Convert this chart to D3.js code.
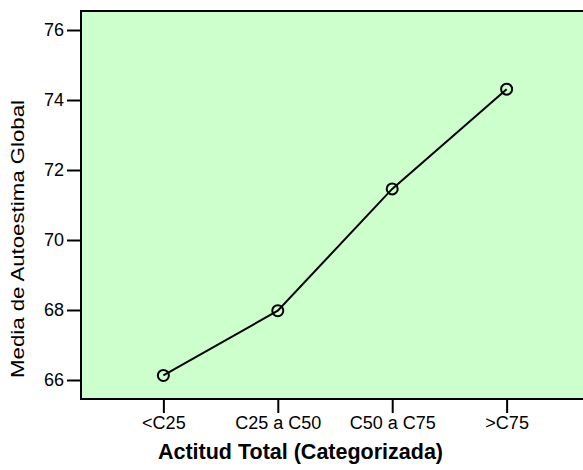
<!DOCTYPE html>
<html>
<head>
<meta charset="utf-8">
<script src="https://cdn.jsdelivr.net/npm/d3@7"></script>
<style>
  html, body { margin: 0; padding: 0; background: #ffffff; }
  svg { display: block; }
  text { font-family: "Liberation Sans", Arial, sans-serif; fill: #000; }
</style>
</head>
<body>
<svg id="chart" width="583" height="470"></svg>
<script>
// Mean global self-esteem by categorized total attitude
const categories = ["<C25", "C25 a C50", "C50 a C75", ">C75"];
const means = [66.13, 67.98, 71.46, 74.31];
const yTicks = [66, 68, 70, 72, 74, 76];
const yDomain = [65.457, 76.543];

const xTitle = "Actitud Total (Categorizada)";
const yTitle = "Media de Autoestima Global";

const plot = { left: 81, top: 11, right: 589, bottom: 399 };

const svg = d3.select("#chart");

const x = d3.scalePoint()
  .domain(categories)
  .range([plot.left, plot.right])
  .padding(0.72);

const y = d3.scaleLinear()
  .domain(yDomain)
  .range([plot.bottom, plot.top]);

// Plot background and frame
svg.append("rect")
  .attr("x", plot.left)
  .attr("y", plot.top)
  .attr("width", plot.right - plot.left)
  .attr("height", plot.bottom - plot.top)
  .attr("fill", "#ccffcc")
  .attr("stroke", "#000")
  .attr("stroke-width", 2);

// Y axis
const yAxis = svg.append("g")
  .attr("transform", `translate(${plot.left},0)`)
  .call(d3.axisLeft(y).tickValues(yTicks).tickSize(14).tickPadding(3).tickFormat(d3.format("d")));
yAxis.select(".domain").remove();
yAxis.selectAll(".tick line").attr("stroke", "#000").attr("stroke-width", 2);
yAxis.selectAll(".tick text")
  .attr("font-size", 18)
  .attr("font-family", "Liberation Sans, Arial, sans-serif")
  .attr("fill", "#000");

// X axis
const xAxis = svg.append("g")
  .attr("transform", `translate(0,${plot.bottom})`)
  .call(d3.axisBottom(x).tickSize(14).tickPadding(3));
xAxis.select(".domain").remove();
xAxis.selectAll(".tick line").attr("stroke", "#000").attr("stroke-width", 2);
xAxis.selectAll(".tick text")
  .attr("font-size", 18)
  .attr("font-family", "Liberation Sans, Arial, sans-serif")
  .attr("fill", "#000");

// Axis titles
svg.append("text")
  .attr("x", 300.5)
  .attr("y", 459)
  .attr("text-anchor", "middle")
  .attr("font-size", 21.5)
  .attr("font-weight", "bold")
  .text(xTitle);

svg.append("text")
  .attr("transform", `translate(24,${(plot.top + plot.bottom) / 2 + 34}) rotate(-90)`)
  .attr("text-anchor", "middle")
  .attr("font-size", 18)
  .attr("textLength", 278)
  .attr("lengthAdjust", "spacingAndGlyphs")
  .text(yTitle);

// Line of means
const line = d3.line()
  .x((d, i) => x(categories[i]))
  .y(d => y(d));

svg.append("path")
  .datum(means)
  .attr("fill", "none")
  .attr("stroke", "#000")
  .attr("stroke-width", 2)
  .attr("d", line);

svg.selectAll("circle.pt")
  .data(means)
  .join("circle")
  .attr("class", "pt")
  .attr("cx", (d, i) => x(categories[i]))
  .attr("cy", d => y(d))
  .attr("r", 5.5)
  .attr("fill", "none")
  .attr("stroke", "#000")
  .attr("stroke-width", 2);
</script>
</body>
</html>
